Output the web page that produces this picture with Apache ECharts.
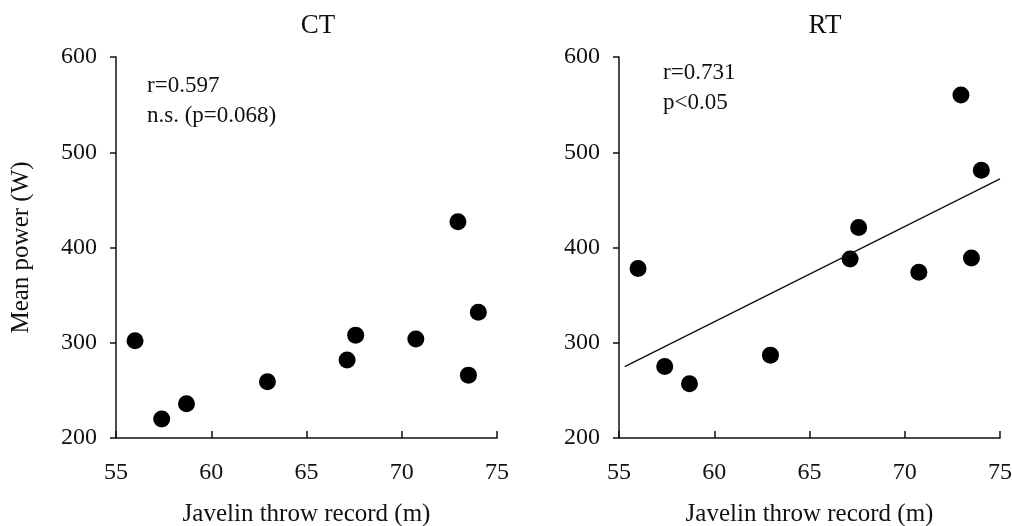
<!DOCTYPE html>
<html>
<head>
<meta charset="utf-8">
<script src="https://cdn.jsdelivr.net/npm/echarts@6/dist/echarts.min.js"></script>
<style>
  html, body { margin: 0; padding: 0; background: #fff; }
  #chart { width: 1012px; height: 526px; }
</style>
</head>
<body>
<div id="chart"></div>
<script>
// values
const panelTitles = ['CT', 'RT']
const xTicks = [55, 60, 65, 70, 75]
const yTicks = [200, 300, 400, 500, 600]
const throwRecord = [56.0, 57.4, 58.7, 62.95, 67.13, 67.58, 70.74, 72.95, 73.5, 74.02]
const powerCT = [302, 220, 236, 259, 282, 308, 304, 427, 266, 332]
const powerRT = [378, 275, 257, 287, 388, 421, 374, 560, 389, 481]
const fitRT = [[55.3, 275], [75, 472]]
const statsCT = ['r=0.597', 'n.s. (p=0.068)']
const statsRT = ['r=0.731', 'p<0.05']

const font = '"Liberation Serif", "Times New Roman", serif'
const ink = '#111'

const chart = echarts.init(document.getElementById('chart'))

function xAxisFor(idx) {
  return {
    type: 'value',
    gridIndex: idx,
    min: xTicks[0],
    max: xTicks[xTicks.length - 1],
    interval: 5,
    name: 'Javelin throw record (m)',
    nameLocation: 'middle',
    nameGap: 64,
    nameTextStyle: { fontFamily: font, fontSize: 25, color: ink },
    axisLine: { lineStyle: { color: ink, width: 1.5 } },
    axisTick: { inside: true, length: 7, lineStyle: { color: ink, width: 1.5 } },
    axisLabel: { fontFamily: font, fontSize: 24, color: ink, margin: 23 },
    splitLine: { show: false }
  }
}

function yAxisFor(idx, withName) {
  return {
    type: 'value',
    gridIndex: idx,
    min: yTicks[0],
    max: yTicks[yTicks.length - 1],
    interval: 100,
    name: withName ? 'Mean power (W)' : '',
    nameLocation: 'middle',
    nameRotate: 90,
    nameGap: 82,
    nameTextStyle: { fontFamily: font, fontSize: 25, color: ink },
    axisLine: { show: true, lineStyle: { color: ink, width: 1.5 } },
    axisTick: { show: true, inside: false, length: 6, lineStyle: { color: ink, width: 1.5 } },
    axisLabel: { fontFamily: font, fontSize: 24, color: ink, margin: 19 },
    splitLine: { show: false }
  }
}

function statText(lines, left, top) {
  return {
    type: 'text',
    left: left,
    top: top,
    style: {
      text: lines.join('\n'),
      font: '23px ' + font,
      lineHeight: 30,
      fill: ink
    }
  }
}

const option = {
  backgroundColor: '#fff',
  animation: false,
  title: [
    { text: panelTitles[0], left: 313, top: 7, textAlign: 'center',
      textStyle: { fontFamily: font, fontSize: 27, fontWeight: 'normal', color: ink } },
    { text: panelTitles[1], left: 820, top: 7, textAlign: 'center',
      textStyle: { fontFamily: font, fontSize: 27, fontWeight: 'normal', color: ink } }
  ],
  grid: [
    { left: 116, right: 515, top: 57, bottom: 88, outerBoundsMode: 'none' },
    { left: 619, right: 12, top: 57, bottom: 88, outerBoundsMode: 'none' }
  ],
  xAxis: [xAxisFor(0), xAxisFor(1)],
  yAxis: [yAxisFor(0, true), yAxisFor(1, false)],
  graphic: [
    statText(statsCT, 147, 71),
    statText(statsRT, 663, 58)
  ],
  series: [
    {
      type: 'scatter',
      xAxisIndex: 0,
      yAxisIndex: 0,
      symbolSize: 17,
      itemStyle: { color: '#000', opacity: 1 },
      data: throwRecord.map((x, i) => [x, powerCT[i]])
    },
    {
      type: 'scatter',
      xAxisIndex: 1,
      yAxisIndex: 1,
      symbolSize: 17,
      itemStyle: { color: '#000', opacity: 1 },
      data: throwRecord.map((x, i) => [x, powerRT[i]])
    },
    {
      type: 'line',
      xAxisIndex: 1,
      yAxisIndex: 1,
      symbol: 'none',
      lineStyle: { color: ink, width: 1.3 },
      data: fitRT
    }
  ]
}

chart.setOption(option)
</script>
</body>
</html>
